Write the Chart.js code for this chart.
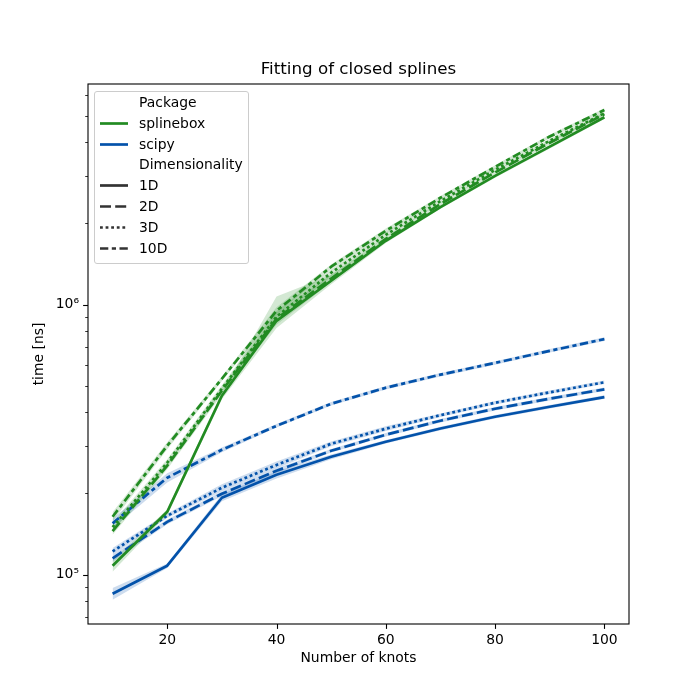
<!DOCTYPE html>
<html>
<head>
<meta charset="utf-8">
<script src="https://cdn.jsdelivr.net/npm/chart.js@4.4.1/dist/chart.umd.min.js"></script>
<style>
  body { margin: 0; background: #fff; }
  #wrap { position: relative; width: 700px; height: 700px; }
  #legend {
    position: absolute; left: 94px; top: 91px; width: 153px; height: 171px;
    background: rgba(255,255,255,0.8); border: 1px solid #cccccc; border-radius: 3px;
    font-family: "DejaVu Sans", sans-serif; font-size: 13.9px; color: #000;
    padding-top: 0px; box-sizing: content-box;
  }
  .row { position: relative; height: 20.8px; line-height: 20.8px; white-space: nowrap; }
  .row span { position: absolute; left: 44px; }
  .row svg { position: absolute; left: 5px; top: 8px; }
</style>
</head>
<body>
<div id="wrap">
  <canvas id="chart" width="700" height="700"></canvas>
  <div id="legend"></div>
</div>
<script>
// knots on the x axis
const knots = [10, 20, 30, 40, 50, 60, 70, 80, 90, 100];

// time [ns]
const scipy1D = [85000, 108000, 192800, 234500, 273500, 311000, 348000, 384700, 419000, 455000];
const scipy2D = [115000, 157000, 199500, 242700, 287700, 330000, 372000, 412000, 449000, 486000];
const scipy3D = [122000, 165400, 210000, 255000, 305500, 347500, 390000, 433600, 474000, 516000];
const scipy10D = [155000, 228700, 290300, 356000, 429800, 492600, 551000, 609000, 675000, 746000];
const splinebox1D = [108000, 171000, 460000, 872000, 1227000, 1726000, 2300000, 3000000, 3850000, 4950000];
const splinebox2D = [145000, 253500, 480000, 887000, 1250000, 1755000, 2360000, 3090000, 3980000, 5080000];
const splinebox3D = [150000, 260000, 489000, 903000, 1314000, 1816000, 2420000, 3160000, 4050000, 5120000];
const splinebox10D = [164000, 300700, 532000, 950000, 1383000, 1880000, 2490000, 3240000, 4200000, 5260000];

// relative half-width of the confidence bands
const scipy1DCi = [0.05, 0.02, 0.03, 0.03, 0.02, 0.015, 0.015, 0.015, 0.015, 0.015];
const scipy2DCi = [0.03, 0.02, 0.02, 0.02, 0.015, 0.015, 0.015, 0.015, 0.015, 0.015];
const scipy3DCi = [0.03, 0.02, 0.03, 0.03, 0.02, 0.02, 0.015, 0.015, 0.015, 0.015];
const scipy10DCi = [0.04, 0.04, 0.02, 0.015, 0.015, 0.015, 0.015, 0.015, 0.015, 0.015];
const splinebox1DCi = [0.05, 0.02, 0.03, 0.06, 0.03, 0.02, 0.015, 0.015, 0.015, 0.015];
const splinebox1DCiUp = [0.05, 0.02, 0.03, 0.23, 0.05, 0.02, 0.015, 0.015, 0.015, 0.015];
const splinebox2DCi = [0.03, 0.03, 0.03, 0.05, 0.03, 0.02, 0.015, 0.015, 0.015, 0.015];
const splinebox3DCi = [0.04, 0.03, 0.03, 0.05, 0.03, 0.02, 0.015, 0.015, 0.015, 0.015];
const splinebox10DCi = [0.04, 0.03, 0.02, 0.03, 0.02, 0.02, 0.015, 0.015, 0.015, 0.015];

const xTicks = [20, 40, 60, 80, 100];
const yTicks = [70000, 80000, 90000, 100000, 200000, 300000, 400000, 500000, 600000, 700000,
  800000, 900000, 1000000, 2000000, 3000000, 4000000, 5000000, 6000000];
const yTickLabels = { 100000: '10⁵', 1000000: '10⁶' };

const GREEN = '#228b22';
const BLUE = '#0352aa';
const GREEN_BAND = 'rgba(34,139,34,0.2)';
const BLUE_BAND = 'rgba(3,82,170,0.2)';
const LW = 2.7;

const dashes = {
  '1D': [],
  '2D': [11, 4.2],
  '3D': [2.8, 2.8],
  '10D': [8.3, 3.5, 4.2, 3.5]
};

const series = [
  { pkg: 'splinebox', dim: '1D', vals: splinebox1D, ci: splinebox1DCi, ciUp: splinebox1DCiUp },
  { pkg: 'splinebox', dim: '2D', vals: splinebox2D, ci: splinebox2DCi },
  { pkg: 'splinebox', dim: '3D', vals: splinebox3D, ci: splinebox3DCi },
  { pkg: 'splinebox', dim: '10D', vals: splinebox10D, ci: splinebox10DCi },
  { pkg: 'scipy', dim: '1D', vals: scipy1D, ci: scipy1DCi },
  { pkg: 'scipy', dim: '2D', vals: scipy2D, ci: scipy2DCi },
  { pkg: 'scipy', dim: '3D', vals: scipy3D, ci: scipy3DCi },
  { pkg: 'scipy', dim: '10D', vals: scipy10D, ci: scipy10DCi }
];

const toPoints = arr => knots.map((k, i) => ({ x: k, y: arr[i] }));

const datasets = [];
series.forEach(s => {
  const band = s.pkg === 'splinebox' ? GREEN_BAND : BLUE_BAND;
  const up = s.ciUp || s.ci;
  datasets.push({
    data: toPoints(s.vals.map((v, i) => v * (1 - s.ci[i]))),
    borderWidth: 0, pointRadius: 0, fill: false, order: 2
  });
  datasets.push({
    data: toPoints(s.vals.map((v, i) => v * (1 + up[i]))),
    borderWidth: 0, pointRadius: 0, fill: '-1', backgroundColor: band, order: 2
  });
});
series.forEach(s => {
  datasets.push({
    label: s.pkg + ' ' + s.dim,
    data: toPoints(s.vals),
    borderColor: s.pkg === 'splinebox' ? GREEN : BLUE,
    borderWidth: LW,
    borderDash: dashes[s.dim],
    borderCapStyle: 'butt',
    borderJoinStyle: 'round',
    pointRadius: 0,
    fill: false,
    tension: 0,
    order: 1
  });
});

// frame, tick marks and title, drawn like matplotlib
const framePlugin = {
  id: 'frame',
  afterDraw(chart) {
    const { ctx, chartArea: a, scales } = chart;
    ctx.save();
    ctx.strokeStyle = '#000';
    ctx.lineWidth = 1.1;
    ctx.strokeRect(a.left, a.top, a.right - a.left, a.bottom - a.top);

    scales.x.ticks.forEach(t => {
      const px = Math.round(scales.x.getPixelForValue(t.value)) + 0.5;
      ctx.beginPath();
      ctx.moveTo(px, a.bottom);
      ctx.lineTo(px, a.bottom + 4.9);
      ctx.stroke();
    });
    scales.y.ticks.forEach(t => {
      const major = yTickLabels[t.value] !== undefined;
      const py = Math.round(scales.y.getPixelForValue(t.value)) + 0.5;
      ctx.lineWidth = major ? 1.1 : 0.8;
      ctx.beginPath();
      ctx.moveTo(a.left, py);
      ctx.lineTo(a.left - (major ? 4.9 : 2.8), py);
      ctx.stroke();
    });

    ctx.fillStyle = '#000';
    ctx.font = '16.7px "DejaVu Sans"';
    ctx.textAlign = 'center';
    ctx.textBaseline = 'middle';
    ctx.fillText('Fitting of closed splines', (a.left + a.right) / 2, 70);
    ctx.restore();
  }
};

Chart.defaults.font.family = '"DejaVu Sans", sans-serif';
Chart.defaults.font.size = 13.9;
Chart.defaults.color = '#000';

new Chart(document.getElementById('chart'), {
  type: 'line',
  data: { datasets },
  options: {
    responsive: false,
    animation: false,
    layout: { padding: { top: 84, right: 71, left: 0, bottom: 0 } },
    plugins: {
      legend: { display: false },
      tooltip: { enabled: false }
    },
    scales: {
      x: {
        type: 'linear',
        min: 5.5,
        max: 104.5,
        afterBuildTicks: scale => { scale.ticks = xTicks.map(v => ({ value: v })); },
        afterFit: scale => { scale.height = 76; },
        grid: { display: false, drawTicks: false },
        border: { display: false },
        ticks: { autoSkip: false, maxRotation: 0, padding: 8 },
        title: {
          display: true, text: 'Number of knots',
          font: { size: 13.9 }, padding: { top: 0, bottom: 33 }
        }
      },
      y: {
        type: 'logarithmic',
        min: 65700,
        max: 6570000,
        afterBuildTicks: scale => { scale.ticks = yTicks.map(v => ({ value: v })); },
        afterFit: scale => { scale.width = 88; },
        grid: { display: false, drawTicks: false },
        border: { display: false },
        ticks: {
          autoSkip: false,
          padding: 9,
          callback: v => yTickLabels[v] || ''
        },
        title: {
          display: true, text: 'time [ns]',
          font: { size: 13.9 }, padding: { top: 31, bottom: 0 }
        }
      }
    }
  },
  plugins: [framePlugin]
});

// legend: two header rows plus colour and dash swatches
const legendRows = [
  { text: 'Package' },
  { text: 'splinebox', color: GREEN, dash: [] },
  { text: 'scipy', color: BLUE, dash: [] },
  { text: 'Dimensionality' },
  { text: '1D', color: '#333333', dash: dashes['1D'] },
  { text: '2D', color: '#333333', dash: dashes['2D'] },
  { text: '3D', color: '#333333', dash: dashes['3D'] },
  { text: '10D', color: '#333333', dash: dashes['10D'] }
];
const legendEl = document.getElementById('legend');
legendRows.forEach(r => {
  const row = document.createElement('div');
  row.className = 'row';
  let html = '';
  if (r.color) {
    html += '<svg width="28" height="5"><line x1="0" y1="2.5" x2="28" y2="2.5" stroke="' + r.color +
      '" stroke-width="' + LW + '" stroke-dasharray="' + (r.dash.length ? r.dash.join(' ') : 'none') + '"/></svg>';
  }
  html += '<span>' + r.text + '</span>';
  row.innerHTML = html;
  legendEl.appendChild(row);
});
</script>
</body>
</html>
